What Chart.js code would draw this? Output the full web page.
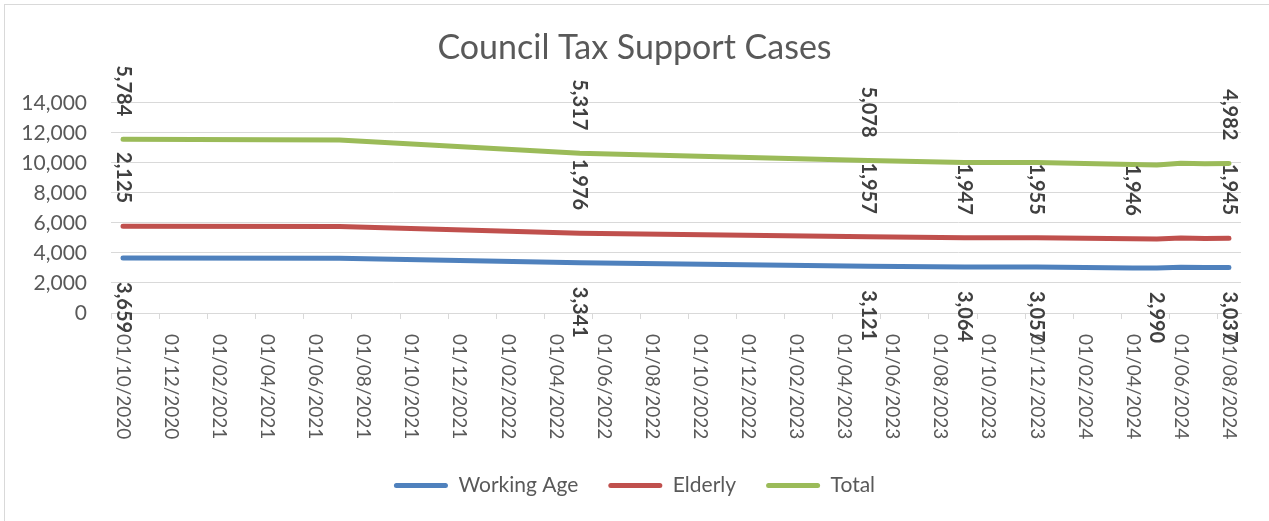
<!DOCTYPE html>
<html>
<head>
<meta charset="utf-8">
<title>Council Tax Support Cases</title>
<script src="https://cdn.jsdelivr.net/npm/chart.js@4/dist/chart.umd.min.js"></script>
<style>
  html, body { margin: 0; padding: 0; background: #ffffff; }
  #wrap { position: relative; width: 1269px; height: 521px; overflow: hidden; }
  #frame { position: absolute; left: 4px; top: 4px; width: 1280px; height: 530px;
           border-left: 1px solid #d9d9d9; border-top: 1px solid #d9d9d9; }
  #c { position: absolute; left: 0; top: 0; }
</style>
</head>
<body>
<div id="wrap">
  <div id="frame"></div>
  <canvas id="c" width="1269" height="521"></canvas>
</div>
<script>
// Reporting dates (dd/mm/yyyy) and case counts for each group
const dates = ['01/10/2020', '01/07/2021', '01/05/2022', '01/05/2023', '01/09/2023',
               '01/12/2023', '01/04/2024', '01/05/2024', '01/06/2024', '01/07/2024', '01/08/2024'];
const workingAge = [3659, 3642, 3341, 3121, 3064, 3057, 2996, 2990, 3041, 3030, 3037];
const elderly    = [2125, 2117, 1976, 1957, 1947, 1955, 1946, 1941, 1949, 1940, 1945];
const total      = [5784, 5759, 5317, 5078, 5011, 5012, 4942, 4931, 4990, 4970, 4982];

// Dates that carry a value label, per series
const workingAgeLabelled = ['01/10/2020', '01/05/2022', '01/05/2023', '01/09/2023', '01/12/2023', '01/05/2024', '01/08/2024'];
const elderlyLabelled    = ['01/10/2020', '01/05/2022', '01/05/2023', '01/09/2023', '01/12/2023', '01/04/2024', '01/08/2024'];
const totalLabelled      = ['01/10/2020', '01/05/2022', '01/05/2023', '01/08/2024'];

// Date axis labels (every second month)
const tickLabels = ['01/10/2020', '01/12/2020', '01/02/2021', '01/04/2021', '01/06/2021', '01/08/2021',
                    '01/10/2021', '01/12/2021', '01/02/2022', '01/04/2022', '01/06/2022', '01/08/2022',
                    '01/10/2022', '01/12/2022', '01/02/2023', '01/04/2023', '01/06/2023', '01/08/2023',
                    '01/10/2023', '01/12/2023', '01/02/2024', '01/04/2024', '01/06/2024', '01/08/2024'];

const axisStart = '01/10/2020';
const axisEnd = '01/08/2024';

// Months elapsed since the first month on the axis
function monthIndex(s) {
  const p = s.split('/');
  const a = axisStart.split('/');
  return (parseInt(p[2], 10) - parseInt(a[2], 10)) * 12 + (parseInt(p[1], 10) - parseInt(a[1], 10));
}

const FONT = 'Lato, "Open Sans", sans-serif';
const GREY = '#595959';
const GRID = '#d9d9d9';

function series(values) {
  return dates.map((d, i) => ({ x: monthIndex(d), y: values[i] }));
}

// Rotated value labels on selected points
const valueLabels = {
  id: 'valueLabels',
  afterDatasetsDraw(chart) {
    const specs = [
      { ds: 0, shown: workingAgeLabelled, below: true },
      { ds: 1, shown: elderlyLabelled, below: false },
      { ds: 2, shown: totalLabelled, below: false }
    ];
    const ctx = chart.ctx;
    specs.forEach(spec => {
      const meta = chart.getDatasetMeta(spec.ds);
      const raw = chart.data.datasets[spec.ds].data;
      meta.data.forEach((pt, i) => {
        if (!spec.shown.includes(dates[i])) return;
        const text = raw[i].y.toLocaleString('en-GB');
        ctx.save();
        ctx.translate(pt.x, pt.y);
        ctx.rotate(Math.PI / 2);
        ctx.font = 'bold 20px ' + FONT;
        ctx.fillStyle = '#404040';
        ctx.textBaseline = 'middle';
        if (spec.below) {
          ctx.textAlign = 'left';
          ctx.fillText(text, 24, 0);
        } else {
          ctx.textAlign = 'right';
          ctx.fillText(text, -23, 0);
        }
        ctx.restore();
      });
    });
  }
};

// Month-boundary tick marks and vertical date labels
const dateAxis = {
  id: 'dateAxis',
  beforeDatasetsDraw(chart) {
    const ctx = chart.ctx;
    const xs = chart.scales.x;
    const y0 = xs.top;
    ctx.save();
    ctx.strokeStyle = GRID;
    ctx.lineWidth = 1;
    tickLabels.forEach(lbl => {
      const m = monthIndex(lbl);
      const bx = Math.round(xs.getPixelForValue(m - 0.5)) + 0.5;
      ctx.beginPath();
      ctx.moveTo(bx, y0);
      ctx.lineTo(bx, y0 + 6);
      ctx.stroke();
    });
    ctx.font = '19px ' + FONT;
    ctx.fillStyle = GREY;
    ctx.textBaseline = 'middle';
    ctx.textAlign = 'left';
    tickLabels.forEach(lbl => {
      const px = xs.getPixelForValue(monthIndex(lbl));
      ctx.save();
      ctx.translate(px, y0);
      ctx.rotate(Math.PI / 2);
      ctx.fillText(lbl, 21, 0);
      ctx.restore();
    });
    ctx.restore();
  }
};

// Centre the title and legend on the whole canvas rather than the padded layout box
const centreBlocks = {
  id: 'centreBlocks',
  afterLayout(chart) {
    [chart.titleBlock, chart.legend].forEach(box => {
      if (!box) return;
      const shift = chart.width / 2 - (box.left + box.right) / 2;
      box.left += shift;
      box.right += shift;
    });
  }
};

const lineStyle = color => ({
  borderColor: color,
  backgroundColor: color,
  borderWidth: 5,
  borderCapStyle: 'round',
  borderJoinStyle: 'round',
  pointRadius: 0,
  pointHoverRadius: 0,
  tension: 0,
  fill: false
});

new Chart(document.getElementById('c'), {
  type: 'line',
  data: {
    datasets: [
      Object.assign({ label: 'Working Age', data: series(workingAge) }, lineStyle('#4f81bd')),
      Object.assign({ label: 'Elderly', data: series(elderly) }, lineStyle('#c0504d')),
      Object.assign({ label: 'Total', data: series(total) }, lineStyle('#9bbb59'))
    ]
  },
  options: {
    responsive: false,
    animation: false,
    events: [],
    layout: { padding: { left: 0, right: 28, top: 0, bottom: 15 } },
    scales: {
      x: {
        type: 'linear',
        min: monthIndex(axisStart) - 0.5,
        max: monthIndex(axisEnd) + 0.5,
        grid: { display: false },
        border: { display: true, color: GRID, width: 1 },
        ticks: { display: false },
        afterFit(scale) { scale.height = 132; }
      },
      y: {
        stacked: true,
        min: 0,
        max: 14000,
        ticks: {
          stepSize: 2000,
          padding: 24,
          color: GREY,
          font: { family: FONT, size: 21 },
          callback: v => v.toLocaleString('en-GB')
        },
        grid: { color: GRID, lineWidth: 1, drawTicks: false },
        border: { display: false },
        afterFit(scale) { scale.width = 111; }
      }
    },
    plugins: {
      title: {
        display: true,
        text: 'Council Tax Support Cases',
        color: GREY,
        font: { family: FONT, size: 34, weight: 'normal' },
        padding: { top: 28, bottom: 34 }
      },
      legend: {
        position: 'bottom',
        labels: {
          color: GREY,
          font: { family: FONT, size: 21 },
          boxWidth: 54,
          boxHeight: 5,
          useBorderRadius: true,
          borderRadius: 2.5,
          padding: 30,
          generateLabels(chart) {
            const items = Chart.defaults.plugins.legend.labels.generateLabels(chart);
            items.forEach(it => { it.lineWidth = 0; });
            return items;
          }
        }
      },
      tooltip: { enabled: false }
    }
  },
  plugins: [dateAxis, valueLabels, centreBlocks]
});
</script>
</body>
</html>
